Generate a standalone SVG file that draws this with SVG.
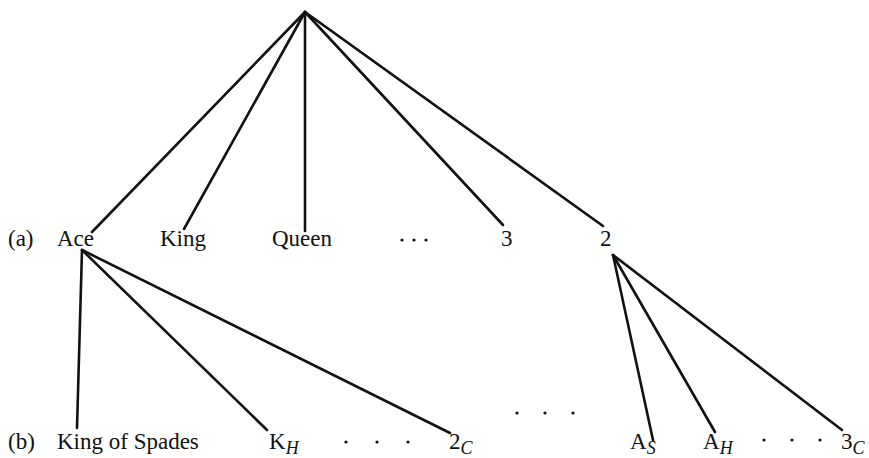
<svg xmlns="http://www.w3.org/2000/svg" width="869" height="458" viewBox="0 0 869 458">
<style>
  .t { font-family: "Liberation Serif", "Times New Roman", serif; font-size: 23px; fill: #111; }
  .s { font-family: "Liberation Serif", "Times New Roman", serif; font-size: 18px; font-style: italic; fill: #111; }
  .e { stroke: #111; stroke-width: 2.6; stroke-linecap: round; fill: none; }
  .d { fill: #111; }
</style>
<rect width="869" height="458" fill="#fff"/>
<g id="connectors">
  <line class="e" x1="305" y1="12" x2="92" y2="232"/>
  <line class="e" x1="305" y1="12" x2="184" y2="229"/>
  <line class="e" x1="305" y1="12" x2="305" y2="231"/>
  <line class="e" x1="305" y1="12" x2="503" y2="225"/>
  <line class="e" x1="305" y1="12" x2="603" y2="226"/>
  <line class="e" x1="82" y1="250" x2="77" y2="428"/>
  <line class="e" x1="82" y1="250" x2="267" y2="430"/>
  <line class="e" x1="82" y1="250" x2="450" y2="433"/>
  <line class="e" x1="613" y1="255" x2="653" y2="440"/>
  <line class="e" x1="613" y1="255" x2="715" y2="432"/>
  <line class="e" x1="613" y1="255" x2="842" y2="430"/>
</g>
<g id="label-a"><text class="t" x="8" y="246">(a)</text></g>
<g id="node-ace"><text class="t" x="57" y="246">Ace</text></g>
<g id="node-king"><text class="t" x="160" y="246">King</text></g>
<g id="node-queen"><text class="t" x="272" y="246">Queen</text></g>
<g id="dots-a"><circle class="d" cx="402" cy="240" r="1.6"/><circle class="d" cx="414" cy="240" r="1.6"/><circle class="d" cx="426" cy="240" r="1.6"/></g>
<g id="node-3"><text class="t" x="501" y="246">3</text></g>
<g id="node-2"><text class="t" x="600" y="246">2</text></g>
<g id="dots-mid"><circle class="d" cx="517" cy="413" r="1.6"/><circle class="d" cx="545" cy="413" r="1.6"/><circle class="d" cx="573" cy="413" r="1.6"/></g>
<g id="label-b"><text class="t" x="8" y="449">(b)</text></g>
<g id="node-king-spades"><text class="t" x="57" y="449">King of Spades</text></g>
<g id="node-kh"><text class="t" x="269" y="449">K<tspan class="s" dy="5">H</tspan></text></g>
<g id="dots-b1"><circle class="d" cx="346" cy="442" r="1.6"/><circle class="d" cx="377" cy="442" r="1.6"/><circle class="d" cx="408" cy="442" r="1.6"/></g>
<g id="node-2c"><text class="t" x="449" y="449">2<tspan class="s" dy="5">C</tspan></text></g>
<g id="node-as"><text class="t" x="630" y="449">A<tspan class="s" dy="5">S</tspan></text></g>
<g id="node-ah"><text class="t" x="703" y="449">A<tspan class="s" dy="5">H</tspan></text></g>
<g id="dots-b2"><circle class="d" cx="764" cy="440" r="1.6"/><circle class="d" cx="792" cy="440" r="1.6"/><circle class="d" cx="820" cy="440" r="1.6"/></g>
<g id="node-3c"><text class="t" x="841" y="449">3<tspan class="s" dy="5">C</tspan></text></g>
</svg>
